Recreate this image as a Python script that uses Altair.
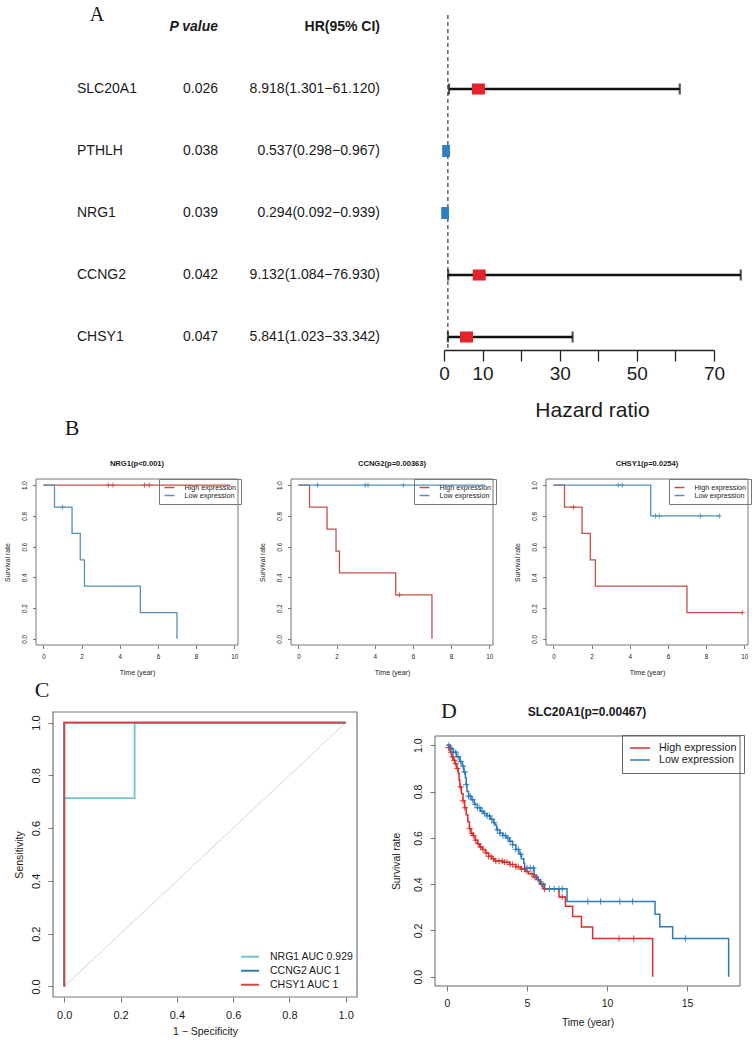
import altair as alt
import pandas as pd

PAGE_W, PAGE_H = 752, 1043
SANS = "Liberation Sans, Arial, Helvetica, sans-serif"
SERIF = "Liberation Serif, Times New Roman, serif"
INK = "#1a1a1a"
CROSS = "M-1,0H1M0,-1V1"

# ---------------- A: univariate Cox regression ----------------
genes = ["SLC20A1", "PTHLH", "NRG1", "CCNG2", "CHSY1"]
p_values = ["0.026", "0.038", "0.039", "0.042", "0.047"]
hr = [8.918, 0.537, 0.294, 9.132, 5.841]
hr_low = [1.301, 0.298, 0.092, 1.084, 1.023]
hr_high = [61.120, 0.967, 0.939, 76.930, 33.342]
hr_null = 1
hr_ticks = [0, 10, 20, 30, 40, 50, 60, 70]
hr_labelled = [0, 10, 30, 50, 70]

# ---------------- B: Kaplan-Meier curves in the small cohort ----------------
km_groups = ["High expression", "Low expression"]
time_ticks_b = [0, 2, 4, 6, 8, 10]
surv_ticks = [0, 0.2, 0.4, 0.6, 0.8, 1.0]

nrg1_high_t = [0, 9.8]
nrg1_high_s = [1.0, 1.0]
nrg1_high_cens = [3.4, 3.65, 5.3, 5.55]
nrg1_low_t = [0, 0.58, 1.5, 1.93, 2.15, 5.08, 7.0]
nrg1_low_s = [1.0, 0.857, 0.686, 0.514, 0.343, 0.171, 0.0]
nrg1_low_cens = [1.0]

ccng2_high_t = [0, 0.58, 1.5, 1.97, 2.15, 5.1, 7.0]
ccng2_high_s = [1.0, 0.857, 0.714, 0.571, 0.429, 0.286, 0.0]
ccng2_high_cens = [5.3]
ccng2_low_t = [0, 9.8]
ccng2_low_s = [1.0, 1.0]
ccng2_low_cens = [1.0, 3.5, 3.65, 5.5]

chsy1_high_t = [0, 0.58, 1.5, 1.93, 2.2, 7.0, 9.9]
chsy1_high_s = [1.0, 0.857, 0.686, 0.514, 0.343, 0.171, 0.171]
chsy1_high_cens = [1.05, 9.9]
chsy1_low_t = [0, 5.1, 8.7]
chsy1_low_s = [1.0, 0.8, 0.8]
chsy1_low_cens = [3.4, 3.6, 5.35, 5.55, 7.7, 8.7]

# ---------------- C: ROC curves ----------------
roc_genes = ["NRG1", "CCNG2", "CHSY1"]
roc_auc = [0.929, 1, 1]
nrg1_fpr = [0, 0, 0.25, 0.25, 1]
nrg1_tpr = [0, 0.714, 0.714, 1, 1]
ccng2_fpr = [0, 0, 1]
ccng2_tpr = [0, 1, 1]
chsy1_fpr = [0, 0, 1]
chsy1_tpr = [0, 1, 1]
unit_ticks = [0, 0.2, 0.4, 0.6, 0.8, 1.0]

# ---------------- D: SLC20A1 in the large cohort ----------------
time_ticks_d = [0, 5, 10, 15]
slc_high_t = [0, 0.1, 0.2, 0.3, 0.4, 0.5, 0.6, 0.7, 0.75, 0.8, 0.9, 1.0, 1.1, 1.2, 1.3,
              1.4, 1.5, 1.6, 1.75, 1.9, 2.05, 2.2, 2.4, 2.6, 2.8, 3.0, 3.5, 3.9, 4.3, 4.6,
              4.9, 5.1, 5.4, 5.7, 5.85, 6.0, 7.0, 7.4, 7.85, 8.4, 9.1, 12.85]
slc_high_s = [1.0, 0.99, 0.97, 0.95, 0.935, 0.92, 0.90, 0.88, 0.85, 0.82, 0.79, 0.76, 0.73,
              0.70, 0.67, 0.64, 0.62, 0.61, 0.59, 0.575, 0.56, 0.55, 0.535, 0.52, 0.51, 0.50,
              0.495, 0.485, 0.475, 0.465, 0.455, 0.445, 0.43, 0.415, 0.40, 0.38, 0.345, 0.305,
              0.26, 0.215, 0.165, 0.0]
slc_high_cens = [0.1, 0.18, 0.25, 0.35, 0.45, 0.55, 0.65, 0.85, 1.0, 1.12, 1.42, 1.55, 1.65,
                 1.8, 1.95, 2.1, 2.25, 2.45, 2.6, 2.75, 2.9, 3.05, 3.25, 3.45, 3.6, 3.75, 3.95,
                 4.1, 4.3, 4.45, 4.65, 4.85, 5.0, 5.3, 5.5, 5.9, 6.1, 7.2, 10.75, 11.67]
slc_low_t = [0, 0.2, 0.4, 0.6, 0.8, 0.95, 1.05, 1.15, 1.2, 1.25, 1.35, 1.5, 1.7, 1.9, 2.1,
             2.3, 2.5, 2.7, 2.9, 3.0, 3.1, 3.3, 3.5, 3.7, 3.9, 4.1, 4.3, 4.5, 4.65, 4.8, 4.85,
             5.45, 5.6, 5.8, 6.1, 7.5, 13.0, 13.3, 14.1, 17.6]
slc_low_s = [1.0, 0.985, 0.97, 0.95, 0.93, 0.91, 0.885, 0.86, 0.83, 0.80, 0.78, 0.765, 0.745,
             0.73, 0.715, 0.705, 0.695, 0.68, 0.665, 0.655, 0.635, 0.62, 0.61, 0.60, 0.585,
             0.57, 0.55, 0.53, 0.51, 0.49, 0.47, 0.44, 0.42, 0.40, 0.38, 0.325, 0.27, 0.216,
             0.165, 0.0]
slc_low_cens = [0.12, 0.25, 0.4, 0.55, 0.7, 0.85, 1.0, 1.1, 1.2, 1.35, 1.45, 1.6, 1.75, 1.9,
                2.05, 2.2, 2.35, 2.5, 2.65, 2.8, 2.95, 3.15, 3.3, 3.5, 3.65, 3.8, 3.95, 4.1,
                4.3, 4.45, 4.6, 5.0, 5.2, 5.4, 5.7, 6.0, 6.4, 6.7, 7.0, 7.2, 8.8, 9.6, 10.8,
                11.6, 14.9]


def step_value(times, surv, t):
    """Survival level of a right-continuous step curve at time t."""
    level = surv[0]
    for ti, si in zip(times, surv):
        if ti <= t:
            level = si
    return level


def note(text, x, y, size, weight="normal", font=SANS, align="center",
         baseline="alphabetic", style="normal"):
    return alt.Chart(alt.Data(values=[{}])).mark_text(
        text=text, fontSize=size, fontWeight=weight, font=font, align=align,
        baseline=baseline, fontStyle=style, color=INK,
    ).encode(x=alt.value(x), y=alt.value(y))


def frame(xdom, ydom):
    return pd.DataFrame({"x0": [xdom[0]], "x1": [xdom[1]], "y0": [ydom[0]], "y1": [ydom[1]]})


def r_axes(xdom, xrange, ydom, yrange, xticks, yticks, xfmt, xtitle, ytitle, s):
    xsc = alt.Scale(domain=xdom, range=xrange, nice=False, zero=False)
    ysc = alt.Scale(domain=ydom, range=yrange, nice=False, zero=False)
    common = dict(grid=False, domain=False, labelFlush=False, labelOverlap=False,
                  labelBound=False, tickColor="#555", tickWidth=0.8, tickSize=s["tick"],
                  labelColor=INK, labelFont=SANS, labelFontSize=s["label"],
                  titleColor=INK, titleFont=SANS, titleFontSize=s["title"],
                  titleFontWeight="normal")
    xax = alt.Axis(orient="bottom", offset=yrange[0] - PAGE_H, values=xticks, format=xfmt,
                   labelPadding=s["xpad"], title=xtitle, titlePadding=s["xtpad"], **common)
    yax = alt.Axis(orient="left", offset=-xrange[0], values=yticks, format=".1f",
                   labelAngle=270, labelAlign="center", labelBaseline="bottom",
                   labelPadding=s["ypad"], title=ytitle, titlePadding=s["ytpad"], **common)
    return xsc, ysc, xax, yax


def km_panel(series, xdom, xrange, ydom, yrange, xticks, colors, legend, s):
    lines = pd.concat([pd.DataFrame({"t": t, "s": v, "grp": g}) for g, (t, v, c) in series.items()])
    cens = pd.concat([pd.DataFrame({"t": c, "s": [step_value(t, v, ci) for ci in c], "grp": g})
                      for g, (t, v, c) in series.items()])
    xsc, ysc, xax, yax = r_axes(xdom, xrange, ydom, yrange, xticks, surv_ticks, "d",
                                "Time (year)", "Survival rate", s)
    csc = alt.Scale(domain=list(series.keys()), range=colors)
    color = alt.Color("grp:N", scale=csc, legend=legend, sort=list(series.keys()))
    box = alt.Chart(frame(xdom, ydom)).mark_rect(
        fillOpacity=0, stroke=s["box"], strokeWidth=1
    ).encode(x=alt.X("x0:Q", scale=xsc, axis=xax), x2="x1:Q",
             y=alt.Y("y0:Q", scale=ysc, axis=yax), y2="y1:Q")
    curve = alt.Chart(lines).mark_line(interpolate="step-after", strokeWidth=s["lw"]).encode(
        x=alt.X("t:Q", scale=xsc, axis=xax), y=alt.Y("s:Q", scale=ysc, axis=yax), color=color)
    marks = alt.Chart(cens).mark_point(shape=CROSS, filled=False, size=s["cross"],
                                        strokeWidth=0.9, opacity=1).encode(
        x=alt.X("t:Q", scale=xsc, axis=xax), y=alt.Y("s:Q", scale=ysc, axis=yax), color=color)
    return alt.layer(box, curve, marks)


# ---------------- A ----------------
forest = pd.DataFrame({
    "gene": genes, "p": p_values, "hr": hr, "lo": hr_low, "hi": hr_high,
    "ci": [f"{h:.3f}({l:.3f}\u2212{u:.3f})" for h, l, u in zip(hr, hr_low, hr_high)],
    "dir": ["up" if h > 1 else "down" for h in hr],
})
ya = alt.Y("gene:N", scale=alt.Scale(type="point", domain=genes, range=[89, 337], padding=0),
           axis=None)
xsa = alt.Scale(domain=[0, 70], range=[444, 714], nice=False, zero=False)
keep = ",".join(str(v) for v in hr_labelled)
xaa = alt.Axis(orient="bottom", offset=350 - PAGE_H, values=hr_ticks, grid=False,
               labelExpr=f"indexof([{keep}], datum.value) >= 0 ? datum.label : ''",
               labelFlush=False, labelOverlap=False, labelBound=False,
               domainColor="#222", domainWidth=1.3, tickColor="#222", tickWidth=1.3,
               tickSize=11, labelFont=SANS, labelFontSize=19, labelColor=INK, labelPadding=3,
               title="Hazard ratio", titleFont=SANS, titleFontSize=21, titleFontWeight="normal",
               titleColor=INK, titleX=592, titleY=60, titleAlign="center",
               titleBaseline="middle", titleAngle=0)
base_a = alt.Chart(forest)
null_line = alt.Chart(alt.Data(values=[{"v": hr_null}])).mark_rule(
    strokeDash=[4, 3], color="#555", strokeWidth=1.4
).encode(x=alt.X("v:Q", scale=xsa, axis=xaa), y=alt.value(15), y2=alt.value(350))
ci_bar = base_a.mark_rule(strokeWidth=2.4, color="#111").encode(
    x=alt.X("lo:Q", scale=xsa, axis=xaa), x2="hi:Q", y=ya)
cap_lo = base_a.mark_tick(thickness=2.2, size=11, color="#111").encode(
    x=alt.X("lo:Q", scale=xsa, axis=xaa), y=ya)
cap_hi = base_a.mark_tick(thickness=2.2, size=11, color="#111").encode(
    x=alt.X("hi:Q", scale=xsa, axis=xaa), y=ya)
boxes = base_a.mark_point(filled=True, size=169, opacity=1).encode(
    x=alt.X("hr:Q", scale=xsa, axis=xaa), y=ya,
    color=alt.Color("dir:N", scale=alt.Scale(domain=["up", "down"], range=["#e2232a", "#2f7fc1"]),
                    legend=None),
    shape=alt.Shape("dir:N", scale=alt.Scale(domain=["up", "down"],
                                             range=["M-1,-0.85H1V0.85H-1Z",
                                                    "M-0.6,-0.92H0.6V0.92H-0.6Z"]),
                    legend=None))
txt = dict(baseline="middle", fontSize=14, font=SANS, color=INK)
gene_txt = base_a.mark_text(align="left", **txt).encode(x=alt.value(77), y=ya, text="gene:N")
p_txt = base_a.mark_text(align="right", **txt).encode(x=alt.value(218), y=ya, text="p:N")
ci_txt = base_a.mark_text(align="right", **txt).encode(x=alt.value(380), y=ya, text="ci:N")
panel_a = alt.layer(null_line, ci_bar, cap_lo, cap_hi, boxes, gene_txt, p_txt, ci_txt)

# ---------------- B ----------------
b_style = dict(tick=3.5, label=6.3, title=7, xpad=5, xtpad=9, ypad=5, ytpad=11,
               lw=1.3, cross=25, box="#777")
b_colors = ["#c4504b", "#5592b8"]
b_xdom, b_ydom, b_yrange = [-0.39, 10.2], [-0.04, 1.04], [645, 479]


def b_legend(x):
    return alt.Legend(title=None, orient="none", legendX=x, legendY=479, symbolType="stroke",
                      symbolSize=100, symbolStrokeWidth=1.3, labelFontSize=7.2, labelFont=SANS,
                      labelColor=INK, labelOffset=9, padding=4.5, strokeColor="#777",
                      clipHeight=8, rowPadding=0)


b1 = km_panel({km_groups[0]: (nrg1_high_t, nrg1_high_s, nrg1_high_cens),
               km_groups[1]: (nrg1_low_t, nrg1_low_s, nrg1_low_cens)},
              b_xdom, [36, 238], b_ydom, b_yrange, time_ticks_b, b_colors, b_legend(159), b_style)
b2 = km_panel({km_groups[0]: (ccng2_high_t, ccng2_high_s, ccng2_high_cens),
               km_groups[1]: (ccng2_low_t, ccng2_low_s, ccng2_low_cens)},
              b_xdom, [291, 493], b_ydom, b_yrange, time_ticks_b, b_colors, b_legend(414), b_style)
b3 = km_panel({km_groups[0]: (chsy1_high_t, chsy1_high_s, chsy1_high_cens),
               km_groups[1]: (chsy1_low_t, chsy1_low_s, chsy1_low_cens)},
              b_xdom, [546, 748], b_ydom, b_yrange, time_ticks_b, b_colors, b_legend(669), b_style)

# ---------------- C ----------------
c_style = dict(tick=5, label=11, title=10.5, xpad=7, xtpad=6, ypad=7, ytpad=6)
c_dom = [-0.04, 1.04]
xsc_c, ysc_c, xax_c, yax_c = r_axes(c_dom, [53, 357], c_dom, [997, 712], unit_ticks, unit_ticks,
                                    ".1f", "1 \u2212 Specificity", "Sensitivity", c_style)
roc_names = [f"{g} AUC {a:g}" for g, a in zip(roc_genes, roc_auc)]
roc_color = alt.Color("name:N", sort=roc_names,
                      scale=alt.Scale(domain=roc_names, range=["#72c4cf", "#2f7fb5", "#d8453d"]),
                      legend=alt.Legend(title=None, orient="none", legendX=240, legendY=950,
                                        symbolType="stroke", symbolSize=324,
                                        symbolStrokeWidth=1.8, labelFontSize=10.5,
                                        labelFont=SANS, labelColor=INK, labelOffset=10,
                                        padding=0, clipHeight=13.5, rowPadding=0))
c_box = alt.Chart(frame(c_dom, c_dom)).mark_rect(fillOpacity=0, stroke="#777", strokeWidth=1.2).encode(
    x=alt.X("x0:Q", scale=xsc_c, axis=xax_c), x2="x1:Q",
    y=alt.Y("y0:Q", scale=ysc_c, axis=yax_c), y2="y1:Q")
diag = alt.Chart(pd.DataFrame({"a": [0, 1], "b": [0, 1]})).mark_line(
    color="#d6d6d6", strokeWidth=1).encode(
    x=alt.X("a:Q", scale=xsc_c, axis=xax_c), y=alt.Y("b:Q", scale=ysc_c, axis=yax_c))
roc_layers = []
for name, fpr, tpr in zip(roc_names, [nrg1_fpr, ccng2_fpr, chsy1_fpr],
                          [nrg1_tpr, ccng2_tpr, chsy1_tpr]):
    df = pd.DataFrame({"fpr": fpr, "tpr": tpr, "k": range(len(fpr)), "name": name})
    roc_layers.append(alt.Chart(df).mark_line(strokeWidth=1.8).encode(
        x=alt.X("fpr:Q", scale=xsc_c, axis=xax_c), y=alt.Y("tpr:Q", scale=ysc_c, axis=yax_c),
        order="k:Q", color=roc_color))
panel_c = alt.layer(c_box, diag, *roc_layers)

# ---------------- D ----------------
d_style = dict(tick=5, label=10.5, title=10.3, xpad=7, xtpad=9, ypad=7, ytpad=12,
               lw=1.5, cross=40, box="#666")
d_legend = alt.Legend(title=None, orient="none", legendX=622, legendY=735, symbolType="stroke",
                      symbolSize=400, symbolStrokeWidth=1.6, labelFontSize=10.8, labelFont=SANS,
                      labelColor=INK, labelOffset=8, padding=7, strokeColor="#666",
                      clipHeight=12, rowPadding=0)
panel_d = km_panel({km_groups[0]: (slc_high_t, slc_high_s, slc_high_cens),
                    km_groups[1]: (slc_low_t, slc_low_s, slc_low_cens)},
                   [-0.75, 18.31], [435, 740], [-0.04, 1.04], [986, 736], time_ticks_d,
                   ["#d7302c", "#2b7bba"], d_legend, d_style)

# ---------------- titles and panel letters ----------------
notes = alt.layer(
    note("A", 97, 21, 20, font=SERIF),
    note("P value", 218, 27, 14, weight="bold", align="right", baseline="middle", style="italic"),
    note("HR(95% CI)", 380, 27, 14, weight="bold", align="right", baseline="middle"),
    note("B", 72, 435, 22, font=SERIF),
    note("NRG1(p<0.001)", 137, 466, 7.6, weight="bold"),
    note("CCNG2(p=0.00363)", 392, 466, 7.6, weight="bold"),
    note("CHSY1(p=0.0254)", 647, 466, 7.6, weight="bold"),
    note("C", 42, 697, 22, font=SERIF),
    note("D", 449, 718, 22, font=SERIF),
    note("SLC20A1(p=0.00467)", 587, 716, 12, weight="bold"),
)

chart = alt.layer(panel_a, b1, b2, b3, panel_c, panel_d, notes).resolve_scale(
    x="independent", y="independent", color="independent", shape="independent"
).properties(
    width=PAGE_W, height=PAGE_H, autosize=alt.AutoSizeParams(type="none"), padding=0
).configure_view(strokeWidth=0)

chart.save("out.html", embed_options={"renderer": "svg", "actions": False})
